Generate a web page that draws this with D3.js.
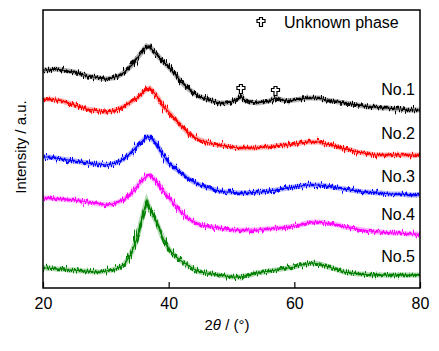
<!DOCTYPE html>
<html>
<head>
<meta charset="utf-8">
<script src="https://cdn.jsdelivr.net/npm/d3@7"></script>
<style>
  body { margin: 0; background: #fff; }
  svg { display: block; font-family: "Liberation Sans", Arial, sans-serif; }
</style>
</head>
<body>
<svg id="xrd"></svg>
<script>
// 2theta grid (deg), with two extra points at the sharp peaks
const twoTheta = [].concat(d3.range(20, 37), [36.5], d3.range(37, 52), [51.5], d3.range(52, 81));

// intensities (a.u., already stacked)
const no1 = [218,218,219,218,217,216,214,212,211,210,209,210,212,216,222,230,238,
  242,
  241,234,227,221,214,206,200,195,191,189,187,185,185,186,189,
  192,
  188,186,185,186,187,190,188,187,188,189,190,190,190,188,187,186,185,184,183,182,181,181,180,180,179,179,178,178,178];
const no2 = [188,189,188,187,185,183,181,179,178,177,176,177,179,182,186,190,196,
  199,
  200,193,183,176,169,162,156,151,148,146,144,143,142,141,140,
  140,
  140,140,140,141,141,142,143,143,144,145,146,146,146,144,143,141,139,138,136,135,134,133,133,133,133,133,133,133,133];
const no3 = [131,131,130,129,128,127,126,125,124,124,123,124,126,130,135,142,148,
  151,
  151,145,134,125,120,115,110,106,103,101,99,97,96,96,95,
  95,
  95,95,96,96,97,98,99,100,101,102,103,103,103,102,101,100,99,98,97,96,96,95,95,94,94,94,93,93,93];
const no4 = [90,90,89,89,88,88,87,86,85,84,83,84,86,89,94,102,109,
  112,
  113,107,98,91,83,76,70,66,63,62,61,60,59,58,58,
  58,
  58,58,58,59,59,60,60,61,62,63,65,66,66,65,64,63,61,60,59,58,57,56,56,55,55,55,54,54,54];
const no5 = [20,20,19,19,18,18,17,17,16,16,17,18,20,24,34,50,76,
  87,
  79,67,51,39,32,27,23,19,16,15,14,13,12,11,11,
  11,
  12,13,15,16,17,18,19,20,21,23,24,25,24,22,20,18,16,15,14,14,13,13,13,13,13,13,13,13,13];

const sampleNames = ["No.1", "No.2", "No.3", "No.4", "No.5"];
const sampleColors = ["#000000", "#ff0000", "#0000ff", "#ff00ff", "#008000"];
const labelLevels = [193, 149, 106, 68, 26];   // label baseline, in a.u.
const unknownPeaks = [51.5, 57];               // 2theta of the unknown phase on No.1
const xTicks = [20, 40, 60, 80];

const width = 439;
const height = 351;
const margin = { top: 10, right: 19, bottom: 63, left: 43 };

const svg = d3.select('#xrd')
  .attr('width', width)
  .attr('height', height);

const x = d3.scaleLinear()
  .domain([20, 80])
  .range([margin.left, width - margin.right]);

const y = d3.scaleLinear()
  .domain([0, 278])
  .range([height - margin.bottom, margin.top]);

// jitter filter to give the traces their noisy look
const defs = svg.append('defs');
const noise = defs.append('filter')
  .attr('id', 'noisy')
  .attr('filterUnits', 'userSpaceOnUse')
  .attr('x', 0).attr('y', 0)
  .attr('width', width).attr('height', height);
noise.append('feTurbulence')
  .attr('type', 'fractalNoise')
  .attr('baseFrequency', '1.1 0.04')
  .attr('numOctaves', 2)
  .attr('seed', 3)
  .attr('result', 'turb');
noise.append('feDisplacementMap')
  .attr('in', 'SourceGraphic')
  .attr('in2', 'turb')
  .attr('scale', 11)
  .attr('xChannelSelector', 'R')
  .attr('yChannelSelector', 'G');

defs.append('clipPath').attr('id', 'plotClip')
  .append('rect')
  .attr('x', margin.left)
  .attr('y', margin.top)
  .attr('width', width - margin.left - margin.right)
  .attr('height', height - margin.top - margin.bottom);

const series = [no1, no2, no3, no4, no5];

const line = d3.line()
  .x((d, i) => x(twoTheta[i]))
  .y(d => y(d));

const traces = svg.append('g').attr('clip-path', 'url(#plotClip)');

series.forEach((vals, k) => {
  // soft halo under the jagged trace
  traces.append('path')
    .attr('d', line(vals))
    .attr('fill', 'none')
    .attr('stroke', sampleColors[k])
    .attr('stroke-opacity', 0.3)
    .attr('stroke-width', 5);
  traces.append('path')
    .attr('d', line(vals))
    .attr('fill', 'none')
    .attr('stroke', sampleColors[k])
    .attr('stroke-width', 2.6)
    .attr('filter', 'url(#noisy)');
  traces.append('path')
    .attr('d', line(vals))
    .attr('fill', 'none')
    .attr('stroke', sampleColors[k])
    .attr('stroke-width', 1.2);
});

// frame
svg.append('rect')
  .attr('x', margin.left)
  .attr('y', margin.top)
  .attr('width', width - margin.left - margin.right)
  .attr('height', height - margin.top - margin.bottom)
  .attr('fill', 'none')
  .attr('stroke', '#000')
  .attr('stroke-width', 1.5);

// bottom axis, ticks pointing in
const xAxis = svg.append('g')
  .attr('transform', `translate(0,${height - margin.bottom})`)
  .call(d3.axisBottom(x).tickValues(xTicks).tickSizeInner(-6).tickSizeOuter(0).tickPadding(10));
xAxis.select('.domain').remove();
xAxis.selectAll('line').attr('stroke-width', 1.2);
xAxis.selectAll('text')
  .style('font-size', '16px')
  .style('font-family', '"Liberation Sans", Arial, sans-serif')
  .attr('fill', '#000');

// axis titles
const xTitle = svg.append('text')
  .attr('x', 227)
  .attr('y', 330)
  .attr('text-anchor', 'middle')
  .style('font-size', '15px');
xTitle.append('tspan').text('2');
xTitle.append('tspan').style('font-style', 'italic').text('θ');
xTitle.append('tspan').text(' / (°)');

svg.append('text')
  .attr('transform', 'translate(26,147) rotate(-90)')
  .attr('text-anchor', 'middle')
  .style('font-size', '15px')
  .text('Intensity / a.u.');

// sample labels
svg.selectAll('text.sample')
  .data(sampleNames)
  .enter()
  .append('text')
  .attr('class', 'sample')
  .attr('x', 415)
  .attr('y', (d, i) => y(labelLevels[i]))
  .attr('text-anchor', 'end')
  .style('font-size', '16px')
  .text(d => d);

// unknown phase markers
const crossPath = 'M-1.5,-4.5H1.5V-2.5H4V0.5H1.5V4.5H-1.5V0.5H-4V-2.5H-1.5Z';

svg.selectAll('path.unknown')
  .data(unknownPeaks)
  .enter()
  .append('path')
  .attr('class', 'unknown')
  .attr('d', crossPath)
  .attr('transform', t => `translate(${x(t)},${y(no1[twoTheta.indexOf(t)]) - 7})`)
  .attr('fill', '#fff')
  .attr('stroke', '#000')
  .attr('stroke-width', 1.2);

svg.append('path')
  .attr('d', crossPath)
  .attr('transform', 'translate(261,22)')
  .attr('fill', '#fff')
  .attr('stroke', '#000')
  .attr('stroke-width', 1.2);

svg.append('text')
  .attr('x', 284)
  .attr('y', 28)
  .style('font-size', '16px')
  .text('Unknown phase');
</script>
</body>
</html>
